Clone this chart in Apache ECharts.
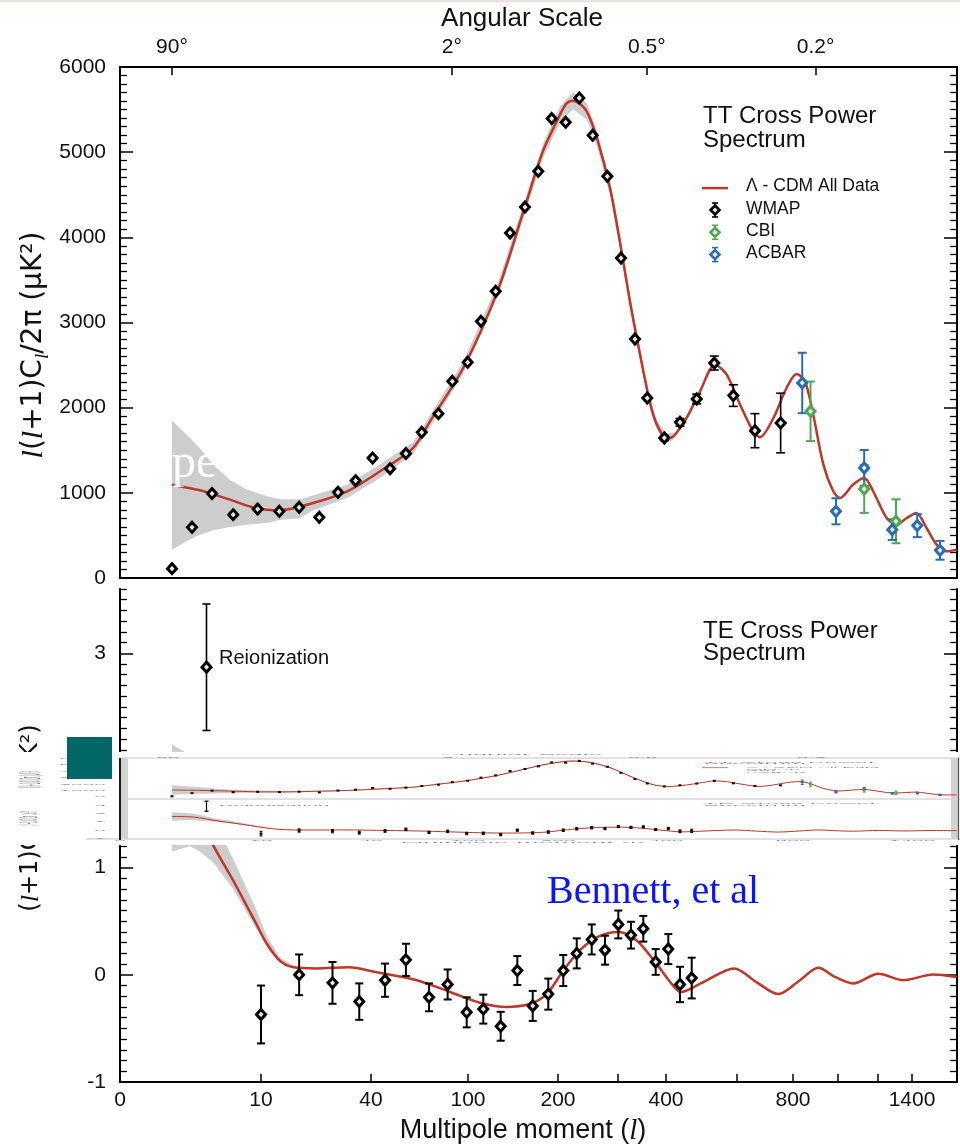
<!DOCTYPE html>
<html><head><meta charset="utf-8">
<script src="https://cdn.jsdelivr.net/npm/echarts@6/dist/echarts.min.js"></script>
<style>html,body{margin:0;padding:0;background:#fff}#c{width:960px;height:1145px}</style>
</head><body><div id="c"></div>
<script>
const FONT = 'Liberation Sans, Arial, Helvetica, sans-serif';
const SERIF = 'Liberation Serif, Times New Roman, serif';
const RED = '#be3728', BLUE = '#2a6cb0', GREEN = '#4fa84f', BAND = '#cdcdcd';

// ---- non-linear multipole scale (axis definition) ----
const SCALE_L = [0, 2, 10, 40, 100, 200, 300, 400, 600, 800, 1000, 1200, 1400, 1665];
const SCALE_U = [0, 52, 141, 251, 348, 438, 498, 546, 617, 673, 718, 758, 792, 837];

// ---- tick labels ----
const bottomTickL = [0, 10, 40, 100, 200, 400, 800, 1400];
const bottomTickLabels = ['0', '10', '40', '100', '200', '400', '800', '1400'];
const bottomMinorL = [300, 600, 1000, 1200];
const angleTickL = [2, 90, 360, 900];
const angleTickLabels = ['90°', '2°', '0.5°', '0.2°'];
const ttYTicks = [0, 1000, 2000, 3000, 4000, 5000, 6000];
const teYTicks = [-1, 0, 1, 2, 3];

// ---- TT: Lambda-CDM model curve ----
const ttModelL = [2,4.5,7.2,9.5,15.2,24.2,33.5,45.6,66,76.5,97,132.7,161.7,183.3,203.3,214,225,236,248,265,286.7,304,325,346,367,381,401,421,458,496,538,571,611,658,682,730,777,816,853,890,935,979,1010,1076,1131,1176,1251,1310,1369,1425,1486,1545,1604,1663];
const ttModelV = [1096,1030,920,822,795,881,1018,1253,1526,1840,2466,3366,4307,5012,5440,5571,5604,5570,5478,5165,4578,3949,3244,2622,2050,1801,1644,1664,1879,2192,2505,2388,2036,1722,1652,1879,2231,2395,2310,1918,1331,1018,939,1097,1174,1018,704,627,704,763,587,392,313,333];
// ---- TT: cosmic-variance band ----
const ttBandL  = [2,3.3,4.5,5.7,7.2,8.7,11.6,15.2,20.7,24.2,33.5,45.6,66,76.5,97,132.7,161.7,183.3,203.3,225,248,265,286.7,304,325,346,367,381,401,421];
const ttBandLo = [333,431,509,560,600,625,645,680,704,795,940,1175,1455,1770,2395,3290,4225,4925,5345,5505,5385,5075,4495,3870,3170,2555,1990,1745,1595,1620];
const ttBandHi = [1848,1684,1526,1331,1155,1038,959,925,925,970,1095,1335,1595,1910,2540,3445,4390,5100,5535,5705,5575,5255,4660,4030,3320,2690,2110,1855,1695,1710];
// ---- TT: WMAP points ----
const wmapTTL   = [2,3.8,5.6,7.5,9.7,15,20.4,25.9,31,35.8,41,51.8,61.6,71.4,81.7,90.3,99.8,114.4,130.8,146.7,163.3,178.1,193,212.8,235.5,257.8,282.2,306.3,335.4,361,396.5,439.4,486.5,536,589.6,664,755.9];
const wmapTTV   = [110,595,991,744,810,783,830,713,1006,1143,1409,1284,1461,1711,1930,2310,2533,3014,3366,4051,4356,4775,5394,5350,5636,5198,4717,3757,2806,2113,1644,1828,2102,2524,2142,1730,1820];
const wmapTTErr = [0,0,0,0,0,0,0,0,0,0,0,0,0,0,0,0,0,0,0,0,0,0,0,0,0,0,0,0,0,0,30,45,57,82,127,200,350];
// ---- TT: CBI ----
const cbiL = [878, 1131, 1306];
const cbiV = [1957, 1045, 666];
const cbiErr = [350, 280, 258];
// ---- TT: ACBAR ----
const acbarL = [841, 991, 1131, 1284, 1431, 1565];
const acbarV = [2290, 783, 1292, 568, 615, 325];
const acbarErr = [355, 153, 211, 121, 135, 110];

// ---- TE model ----
const teModelL = [2,3.6,4.5,5.7,7.5,9.4,11.6,15.2,18.9,25,34,43.3,68.3,88.9,113.3,142.9,168.9,187.4,208.8,236.7,264.5,300.7,339,380.6,414.9,441.7,498,592.5,670.4,747.5,831,912.6,987,1076.5,1202,1348,1525,1663];
const teModelV = [1.65,1.62,1.5,1.21,0.88,0.51,0.29,0.13,0.07,0.06,0.07,0.024,-0.05,-0.16,-0.26,-0.30,-0.27,-0.18,0.04,0.23,0.35,0.40,0.32,0.10,-0.08,-0.16,-0.08,0.06,-0.07,-0.18,-0.05,0.065,-0.02,-0.08,0.01,-0.05,0.003,-0.02];
const teBandL  = [2,3.6,4.5,5.7,7.5,9.4,11.6,15.2,18.9];
const teBandLo = [1.15,1.2,1.15,1.05,0.8,0.46,0.26,0.11,0.06];
const teBandHi = [2.15,2.05,1.85,1.45,1.08,0.65,0.36,0.16,0.09];
// ---- TE WMAP points ----
const wmapTEL   = [10,20.4,29.5,36.8,48.7,61.6,75.9,87.4,99.2,117,136.3,154.8,171.9,189.2,208.8,231.2,256.2,278.3,300.7,327,352.7,378.5,406.5,439.4,472.4];
const wmapTEV   = [-0.37,0.0,-0.075,-0.25,-0.05,0.14,-0.21,-0.09,-0.35,-0.32,-0.48,0.04,-0.29,-0.18,0.04,0.20,0.33,0.23,0.47,0.37,0.43,0.12,0.24,-0.09,-0.03];
const wmapTEErr = [0.27,0.19,0.195,0.17,0.155,0.15,0.13,0.14,0.14,0.135,0.135,0.135,0.14,0.145,0.145,0.14,0.14,0.135,0.13,0.125,0.12,0.12,0.14,0.165,0.19];
const reionL = [5.1], reionV = [2.87], reionErr = [0.59];

// ---------------------------------------------------------------
function toU(l) {
  let i = 1;
  while (i < SCALE_L.length - 1 && l > SCALE_L[i]) i++;
  const l0 = SCALE_L[i-1], l1 = SCALE_L[i], u0 = SCALE_U[i-1], u1 = SCALE_U[i];
  return u0 + (l - l0) * (u1 - u0) / (l1 - l0);
}
const XMAX = SCALE_U[SCALE_U.length - 1];
const labelMap = {};
bottomTickL.forEach((l, i) => labelMap['b' + Math.round(toU(l) * 100)] = bottomTickLabels[i]);
angleTickL.forEach((l, i) => labelMap['a' + Math.round(toU(l) * 100)] = angleTickLabels[i]);

function bandSeries(xi, yi, Ls, lo, hi, z) {
  return {
    type: 'custom', xAxisIndex: xi, yAxisIndex: yi, z, silent: true,
    data: [[toU(Ls[0]), lo[0]]], encode: { x: 0, y: 1 },
    renderItem: (p, api) => {
      const pts = [];
      for (let i = 0; i < Ls.length; i++) pts.push(api.coord([toU(Ls[i]), hi[i]]));
      for (let i = Ls.length - 1; i >= 0; i--) pts.push(api.coord([toU(Ls[i]), lo[i]]));
      return { type: 'polygon', shape: { points: pts }, style: { fill: BAND } };
    }
  };
}
function lineSeries(xi, yi, Ls, Vs, w, z) {
  return {
    type: 'line', xAxisIndex: xi, yAxisIndex: yi, z, silent: true, showSymbol: false, symbol: 'none',
    smooth: 0.3, clip: true, data: Ls.map((l, i) => [toU(l), Vs[i]]),
    lineStyle: { color: RED, width: w }
  };
}
function errSeries(xi, yi, Ls, Vs, Es, color, cap, lw, z) {
  return {
    type: 'custom', xAxisIndex: xi, yAxisIndex: yi, z, silent: true,
    data: Ls.map((l, i) => [toU(l), Vs[i], Es[i]]), encode: { x: 0, y: 1 },
    renderItem: (p, api) => {
      const x = api.value(0), y = api.value(1), e = api.value(2);
      if (!e) return null;
      const a = api.coord([x, y - e]), b = api.coord([x, y + e]);
      const s = { stroke: color, lineWidth: lw };
      return { type: 'group', children: [
        { type: 'line', shape: { x1: a[0], y1: a[1], x2: b[0], y2: b[1] }, style: s },
        { type: 'line', shape: { x1: a[0] - cap, y1: a[1], x2: a[0] + cap, y2: a[1] }, style: s },
        { type: 'line', shape: { x1: b[0] - cap, y1: b[1], x2: b[0] + cap, y2: b[1] }, style: s }
      ] };
    }
  };
}
function ptSeries(xi, yi, Ls, Vs, color, z) {
  return {
    type: 'scatter', xAxisIndex: xi, yAxisIndex: yi, z, silent: true, symbol: 'diamond', symbolSize: [9, 10],
    data: Ls.map((l, i) => [toU(l), Vs[i]]),
    itemStyle: { color: '#e8e8e8', borderColor: color, borderWidth: 3, opacity: 1 }
  };
}
function miniPts(xi, yi, Ls, Vs, color, z) {
  return {
    type: 'scatter', xAxisIndex: xi, yAxisIndex: yi, z, silent: true, symbol: 'rect', symbolSize: [3, 2],
    data: Ls.map((l, i) => [toU(l), Vs[i]]), itemStyle: { color, opacity: 1 }
  };
}

const AXL = { show: true, onZero: false, lineStyle: { color: '#000', width: 2 } };
const LBL = { fontFamily: FONT, fontSize: 21, color: '#111' };
const teMinor = [];
for (let k = -10; k <= 36; k++) { if (k % 10 !== 0) teMinor.push(k / 10); }

function yMain(grid, pos, min, max, interval, labels, minorSplit) {
  return {
    type: 'value', gridIndex: grid, position: pos, min, max, interval,
    axisLine: AXL, splitLine: { show: false },
    axisTick: { show: true, inside: true, length: 13, lineStyle: { color: '#000', width: 1.5 } },
    minorTick: { show: !!minorSplit, splitNumber: minorSplit || 5, length: 7, lineStyle: { color: '#000', width: 1.3 } },
    axisLabel: Object.assign({ show: labels, margin: 14, formatter: v => String(v) }, LBL)
  };
}
const hiddenAxis = (g, min, max) => ({ type: 'value', gridIndex: g, min, max, show: false, splitLine: { show: false } });

const yAxes = [
  Object.assign(yMain(0, 'left', 0, 6000, 1000, true, 10), {}),
  yMain(0, 'right', 0, 6000, 1000, false, 10),
  Object.assign(yMain(1, 'left', -1, 3.6, 1, true, 0), {
    axisTick: { show: true, inside: true, length: 13, customValues: teYTicks, lineStyle: { color: '#000', width: 1.5 } },
    axisLabel: Object.assign({ show: true, margin: 14, customValues: teYTicks, formatter: v => String(v) }, LBL) }),
  { type: 'value', gridIndex: 1, position: 'left', min: -1, max: 3.6, axisLine: { show: false }, splitLine: { show: false },
    axisLabel: { show: false }, axisTick: { show: true, inside: true, length: 7, customValues: teMinor, lineStyle: { color: '#000', width: 1.3 } } },
  Object.assign(yMain(1, 'right', -1, 3.6, 1, false, 0), {
    axisTick: { show: true, inside: true, length: 13, customValues: teYTicks, lineStyle: { color: '#000', width: 1.5 } } }),
  { type: 'value', gridIndex: 1, position: 'right', min: -1, max: 3.6, axisLine: { show: false }, splitLine: { show: false },
    axisLabel: { show: false }, axisTick: { show: true, inside: true, length: 7, customValues: teMinor, lineStyle: { color: '#000', width: 1.3 } } },
  hiddenAxis(2, 0, 6000),
  hiddenAxis(3, -1, 3.6)
];
const xAxes = [
  { type: 'value', gridIndex: 0, position: 'bottom', min: 0, max: XMAX, axisLine: AXL, axisTick: { show: false }, axisLabel: { show: false }, splitLine: { show: false } },
  { type: 'value', gridIndex: 0, position: 'top', min: 0, max: XMAX, axisLine: AXL, splitLine: { show: false },
    axisTick: { show: true, inside: true, length: 8, customValues: angleTickL.map(toU), lineStyle: { color: '#000', width: 1.5 } },
    axisLabel: Object.assign({ margin: 9, customValues: angleTickL.map(toU), formatter: v => labelMap['a' + Math.round(v * 100)] || '' }, LBL) },
  { type: 'value', gridIndex: 1, position: 'bottom', min: 0, max: XMAX, axisLine: AXL, splitLine: { show: false },
    axisTick: { show: true, inside: true, length: 8, customValues: bottomTickL.concat(bottomMinorL).map(toU), lineStyle: { color: '#000', width: 1.5 } },
    axisLabel: Object.assign({ margin: 8, customValues: bottomTickL.map(toU), formatter: v => labelMap['b' + Math.round(v * 100)] || '' }, LBL) },
  hiddenAxis(2, 0, XMAX),
  hiddenAxis(3, 0, XMAX)
];

const series = [
  // main TT
  bandSeries(0, 0, ttBandL, ttBandLo, ttBandHi, 1),
  lineSeries(0, 0, ttModelL, ttModelV, 2.5, 3),
  errSeries(0, 0, wmapTTL, wmapTTV, wmapTTErr, '#000', 4.5, 1.6, 4),
  ptSeries(0, 0, wmapTTL, wmapTTV, '#000', 5),
  errSeries(0, 0, cbiL, cbiV, cbiErr, GREEN, 4.5, 2, 4),
  ptSeries(0, 0, cbiL, cbiV, GREEN, 5),
  errSeries(0, 0, acbarL, acbarV, acbarErr, BLUE, 4.5, 2, 4),
  ptSeries(0, 0, acbarL, acbarV, BLUE, 5),
  // main TE
  bandSeries(2, 2, teBandL, teBandLo, teBandHi, 1),
  lineSeries(2, 2, teModelL, teModelV, 2.5, 3),
  errSeries(2, 2, wmapTEL, wmapTEV, wmapTEErr, '#000', 4, 2, 4),
  ptSeries(2, 2, wmapTEL, wmapTEV, '#000', 5),
  errSeries(2, 2, reionL, reionV, reionErr, '#000', 4, 1.6, 4),
  ptSeries(2, 2, reionL, reionV, '#000', 5),
  // thumbnail TT
  bandSeries(3, 6, ttBandL, ttBandLo, ttBandHi, 60),
  lineSeries(3, 6, ttModelL, ttModelV, 1, 61),
  miniPts(3, 6, wmapTTL, wmapTTV, '#000', 62),
  errSeries(3, 6, acbarL, acbarV, acbarErr, BLUE, 1.5, 1, 62),
  errSeries(3, 6, cbiL, cbiV, cbiErr, GREEN, 1.5, 1, 62),
  miniPts(3, 6, acbarL, acbarV, BLUE, 63),
  miniPts(3, 6, cbiL, cbiV, GREEN, 63),
  // thumbnail TE
  bandSeries(4, 7, teBandL, teBandLo, teBandHi, 60),
  lineSeries(4, 7, teModelL, teModelV, 1, 61),
  errSeries(4, 7, wmapTEL, wmapTEV, wmapTEErr, '#000', 1.5, 1, 62),
  miniPts(4, 7, wmapTEL, wmapTEV, '#000', 62),
  errSeries(4, 7, reionL, reionV, reionErr, '#000', 2, 1.2, 62)
];

// ---------------- graphic decorations ----------------
function txt(text, x, y, size, opts) {
  opts = opts || {};
  return {
    type: 'text', x, y, z: opts.z || 20, rotation: opts.rot || 0, scaleX: opts.sx || 1, scaleY: opts.sy || 1, silent: true,
    style: Object.assign({
      text, fontSize: size, fontFamily: opts.family || FONT, fill: opts.fill || '#111',
      align: opts.align || 'left', textAlign: opts.align || 'left',
      verticalAlign: opts.va || 'middle', textVerticalAlign: opts.va || 'middle'
    }, opts.style || {})
  };
}
const G = [];
G.push({ type: 'rect', z: 1, silent: true, shape: { x: 0, y: 0, width: 960, height: 2 }, style: { fill: '#efdfd6' } });
G.push(txt('Angular Scale', 522, 19, 26, { align: 'center' }));
G.push(txt('Multipole moment ({i|l})', 523, 1131, 27, { align: 'center',
  style: { rich: { i: { fontFamily: SERIF, fontStyle: 'italic', fontSize: 29, fill: '#111' } } } }));
const yRich = (fs) => ({
  i: { fontFamily: SERIF, fontStyle: 'italic', fontSize: fs + 2, fill: '#111', lineHeight: 36 },
  s: { fontFamily: SERIF, fontStyle: 'italic', fontSize: Math.round(fs * 0.68), fill: '#111', lineHeight: 36, verticalAlign: 'bottom' }
});
G.push(txt('{i|l}({i|l}+1)C{s|l}/2π (μK²)', 34, 345, 28, { align: 'center', rot: Math.PI / 2, family: 'DejaVu Sans',
  style: { lineHeight: 36, rich: yRich(28) } }));
G.push(txt('({i|l}+1)C{s|l}/2π (μK²)', 31, 818, 24, { align: 'center', rot: Math.PI / 2, family: 'DejaVu Sans',
  style: { lineHeight: 36, rich: yRich(24) } }));
G.push(txt('TT Cross Power\nSpectrum', 703, 104, 24, { va: 'top', style: { lineHeight: 24 } }));
G.push(txt('TE Cross Power\nSpectrum', 703, 620, 24, { va: 'top', style: { lineHeight: 22 } }));
G.push(txt('Reionization', 219, 658, 20));
// legend
const legRows = [['Λ - CDM All Data', null, 186.6], ['WMAP', '#000', 209], ['CBI', GREEN, 231.3], ['ACBAR', BLUE, 253.6]];
legRows.forEach(r => {
  G.push(txt(r[0], 746, r[2], 17.5));
  if (!r[1]) {
    G.push({ type: 'line', z: 20, silent: true, shape: { x1: 702, y1: r[2] + 1.5, x2: 728, y2: r[2] + 1.5 }, style: { stroke: RED, lineWidth: 2.5 } });
  } else {
    const cx = 715, cy = r[2] + 1;
    const s = { stroke: r[1], lineWidth: 1.6 };
    G.push({ type: 'line', z: 20, silent: true, shape: { x1: cx, y1: cy - 7, x2: cx, y2: cy + 7 }, style: s });
    G.push({ type: 'line', z: 20, silent: true, shape: { x1: cx - 3, y1: cy - 7, x2: cx + 3, y2: cy - 7 }, style: s });
    G.push({ type: 'line', z: 20, silent: true, shape: { x1: cx - 3, y1: cy + 7, x2: cx + 3, y2: cy + 7 }, style: s });
    G.push({ type: 'polygon', z: 21, silent: true, shape: { points: [[cx, cy - 4.5], [cx + 4.5, cy], [cx, cy + 4.5], [cx - 4.5, cy]] },
      style: { fill: '#e8e8e8', stroke: r[1], lineWidth: 2.6 } });
  }
});
// overlaid slide text
G.push(txt('pe', 172, 464, 48, { family: SERIF, fill: '#ffffff', z: 30 }));
G.push(txt('Bennett, et al', 547, 892, 40, { family: SERIF, fill: '#0a14ff', z: 40 }));

// ---- thumbnail overlay frame ----
G.push({ type: 'rect', z: 50, silent: true, shape: { x: 0, y: 752, width: 960, height: 93 }, style: { fill: '#fff' } });
[758, 799, 839].forEach(y => G.push({ type: 'line', z: 51, silent: true, shape: { x1: y === 839 ? 86 : 120, y1: y, x2: 960, y2: y }, style: { stroke: '#c4c4c4', lineWidth: 1 } }));
G.push({ type: 'rect', z: 51, silent: true, shape: { x: 121, y: 758, width: 7, height: 81 }, style: { fill: '#d2d2d2' } });
G.push({ type: 'rect', z: 51, silent: true, shape: { x: 951, y: 758, width: 7, height: 81 }, style: { fill: '#d2d2d2' } });
G.push({ type: 'line', z: 52, silent: true, shape: { x1: 120, y1: 758, x2: 120, y2: 840 }, style: { stroke: '#000', lineWidth: 1.8 } });
G.push({ type: 'line', z: 52, silent: true, shape: { x1: 958.5, y1: 758, x2: 958.5, y2: 840 }, style: { stroke: '#555', lineWidth: 1.2 } });
// squashed thumbnail texts
const mTT = y => 758.5 + (y - 67) * 38.5 / 511;
const mTE = y => 800 + (y - 589) * 39 / 493;
const sTT = 38.5 / 511, sTE = 39 / 493;
const GR = '#8a8a8a';
G.push(txt('Angular Scale', 522, mTT(19), 26, { align: 'center', sy: sTT, fill: GR, z: 56 }));
angleTickL.forEach((l, i) => G.push(txt(angleTickLabels[i], 120 + toU(l), mTT(50), 21, { align: 'center', sy: sTT, fill: GR, z: 56 })));
G.push(txt('TT Cross Power', 703, mTT(115), 24, { sy: sTT, fill: GR, z: 56 }));
G.push(txt('Spectrum', 703, mTT(139), 24, { sy: sTT, fill: GR, z: 56 }));
legRows.forEach(r => G.push(txt(r[0], 746, mTT(r[2]), 17.5, { sy: sTT, fill: GR, z: 56 })));
G.push({ type: 'line', z: 56, silent: true, shape: { x1: 702, y1: mTT(188), x2: 728, y2: mTT(188) }, style: { stroke: '#d08080', lineWidth: 1 } });
ttYTicks.forEach(v => G.push(txt(String(v), 106, 797 - v / 6000 * 38.5, 21, { align: 'right', sy: sTT, fill: GR, z: 56 })));
teYTicks.forEach(v => G.push(txt(String(v), 106, mTE(974.3 - v * 107), 21, { align: 'right', sy: sTE, fill: GR, z: 56 })));
G.push(txt('Reionization', 219, mTE(658), 20, { sy: sTE, fill: GR, z: 56 }));
G.push(txt('TE Cross Power', 703, mTE(631), 24, { sy: sTE, fill: GR, z: 56 }));
G.push(txt('Spectrum', 703, mTE(653), 24, { sy: sTE, fill: GR, z: 56 }));
bottomTickL.forEach((l, i) => G.push(txt(bottomTickLabels[i], 120 + toU(l), mTE(1100), 21, { align: 'center', sy: sTE, fill: GR, z: 56 })));
G.push(txt('Multipole moment (l)', 523, mTE(1131), 27, { align: 'center', sy: sTE, fill: GR, z: 56 }));
G.push(txt('l(l+1)Cl/2π (μK²)', 33, mTT(345), 28, { align: 'center', rot: Math.PI / 2, sx: sTT, family: 'DejaVu Sans', fill: GR, z: 56 }));
G.push(txt('(l+1)Cl/2π (μK²)', 31, mTE(818), 24, { align: 'center', rot: Math.PI / 2, sx: sTE, family: 'DejaVu Sans', fill: GR, z: 56 }));
// teal square
G.push({ type: 'rect', z: 200, silent: true, shape: { x: 67, y: 737, width: 45, height: 42 }, style: { fill: '#006666' } });

const chart = echarts.init(document.getElementById('c'), null, { renderer: 'canvas' });
chart.setOption({
  animation: false,
  backgroundColor: '#fff',
  grid: [
    { left: 120, width: XMAX, top: 67, height: 511 },
    { left: 120, width: XMAX, top: 589, height: 493 },
    { left: 120, width: XMAX, top: 758.5, height: 38.5 },
    { left: 120, width: XMAX, top: 800, height: 39 }
  ],
  xAxis: xAxes,
  yAxis: yAxes,
  series,
  graphic: { elements: G }
});
</script></body></html>
